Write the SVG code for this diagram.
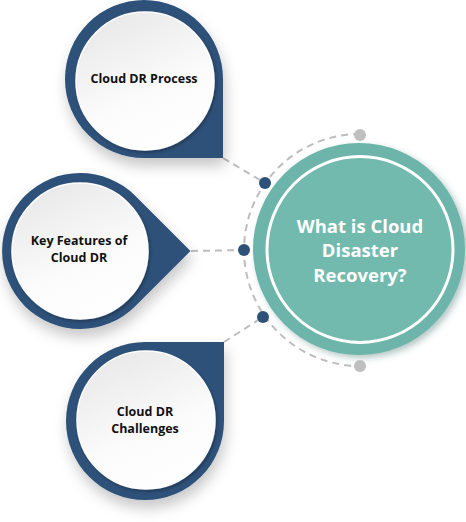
<svg xmlns="http://www.w3.org/2000/svg" width="466" height="522" viewBox="0 0 466 522">
  <defs>
    <linearGradient id="wg" x1="0.25" y1="0" x2="0.7" y2="1">
      <stop offset="0" stop-color="#e8e8e8"/>
      <stop offset="0.6" stop-color="#fbfbfb"/>
      <stop offset="1" stop-color="#ffffff"/>
    </linearGradient>
    <filter id="sh" x="-30%" y="-30%" width="160%" height="170%">
      <feDropShadow dx="2" dy="8" stdDeviation="7" flood-color="#000" flood-opacity="0.22"/>
    </filter>
    <filter id="ish" x="-20%" y="-20%" width="140%" height="140%">
      <feDropShadow dx="1.5" dy="2" stdDeviation="1.5" flood-color="#000" flood-opacity="0.28"/>
    </filter>
    <filter id="tsh" x="-20%" y="-20%" width="140%" height="140%">
      <feDropShadow dx="3" dy="3" stdDeviation="3" flood-color="#2f5f58" flood-opacity="0.35"/>
    </filter>
  </defs>
  <style>
    .shape { fill: #2d5179; filter: url(#sh); }
    .inner { fill: url(#wg); stroke: #ffffff; stroke-width: 1.5; filter: url(#ish); }
    .lbl { font-family: "Open Sans", "Noto Sans", sans-serif; font-weight: 700; font-size: 12.5px; fill: #111111; text-anchor: middle; }
    .main { font-family: "Open Sans", "Noto Sans", sans-serif; font-weight: 700; font-size: 18.5px; fill: #ffffff; text-anchor: middle; }
    .dash { fill: none; stroke: #bdbdbd; stroke-width: 2; stroke-dasharray: 7 5; }
    .bdot { fill: #2d5179; }
    .gdot { fill: #bfbfbf; }
  </style>

  <g id="connectors">
    <path class="dash" d="M 360 134 A 116 116 0 0 0 360 366"/>
    <line class="dash" x1="223" y1="158" x2="265" y2="183"/>
    <line class="dash" x1="191" y1="251" x2="244" y2="250"/>
    <line class="dash" x1="224" y1="342" x2="263" y2="317"/>
  </g>

  <g id="node-process">
    <path class="shape" d="M 223 79 L 223 158 L 144 158 A 79 79 0 1 1 223 79 Z"/>
    <circle class="inner" cx="145" cy="81" r="69"/>
    <text class="lbl" x="144" y="83">Cloud DR Process</text>
  </g>

  <g id="node-features">
    <path class="shape" d="M 135.2 195.8 L 190.5 251 L 135.2 306.2 A 78 78 0 1 1 135.2 195.8 Z"/>
    <circle class="inner" cx="80" cy="251" r="68"/>
    <text class="lbl" x="79" y="245">Key Features of</text>
    <text class="lbl" x="79" y="262">Cloud DR</text>
  </g>

  <g id="node-challenges">
    <path class="shape" d="M 145 342 L 224 342 L 224 421 A 79 79 0 1 1 145 342 Z"/>
    <circle class="inner" cx="146" cy="420" r="69"/>
    <text class="lbl" x="145" y="416">Cloud DR</text>
    <text class="lbl" x="145" y="433">Challenges</text>
  </g>

  <g id="node-main">
    <circle cx="359" cy="249" r="106" fill="#6db5aa" filter="url(#tsh)"/>
    <circle cx="360" cy="249.5" r="93" fill="#72b9ae" stroke="#ffffff" stroke-width="3"/>
    <text class="main" x="360" y="233">What is Cloud</text>
    <text class="main" x="360" y="257">Disaster</text>
    <text class="main" x="360" y="282">Recovery?</text>
  </g>

  <g id="dots">
    <circle class="bdot" cx="265" cy="183" r="6"/>
    <circle class="bdot" cx="244" cy="250" r="6"/>
    <circle class="bdot" cx="263" cy="317" r="6"/>
    <circle class="gdot" cx="360" cy="135" r="6"/>
    <circle class="gdot" cx="360" cy="366" r="6"/>
  </g>
</svg>
